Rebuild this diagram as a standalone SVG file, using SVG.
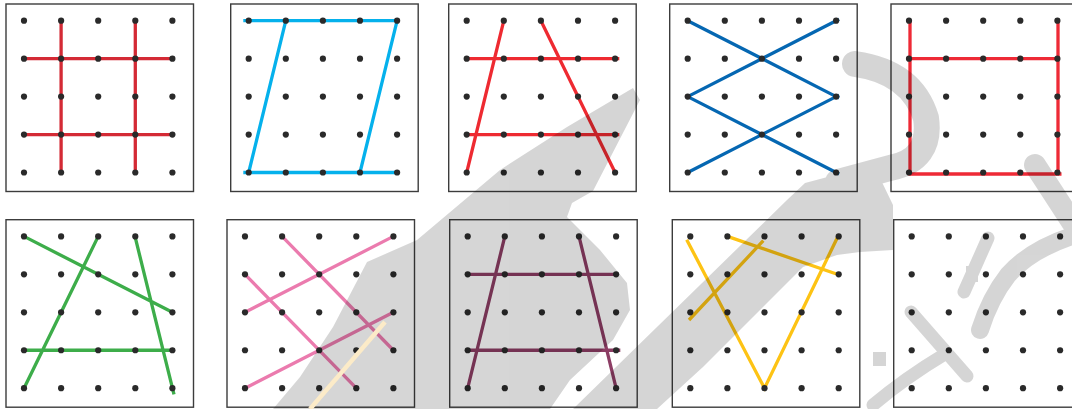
<svg xmlns="http://www.w3.org/2000/svg" xmlns:xlink="http://www.w3.org/1999/xlink" width="1072" height="409" viewBox="0 0 1072 409">
<style>
.frame{fill:#ffffff;stroke:#3c3c3c;stroke-width:1.4}
.dot{fill:#2a2a2a}
.ln{fill:none;stroke-width:3.3;stroke-linecap:butt}
.red1{stroke:#d42a35}
.cyan{stroke:#05b1ec}
.red2{stroke:#ee2a31}
.blue{stroke:#0567b2}
.red3{stroke:#ee2a36}
.green{stroke:#3dad4a}
.pink{stroke:#eb7bae}
.maroon{stroke:#8c3d64}
.yellow{stroke:#fdc314}
.wm path{fill:#000}
.wm .st{fill:none;stroke:#000;stroke-linecap:round;stroke-linejoin:round}
</style>
<defs>
<g id="grid">
<circle class="dot" cx="18" cy="16.7" r="3.1"/><circle class="dot" cx="55.1" cy="16.7" r="3.1"/><circle class="dot" cx="92.2" cy="16.7" r="3.1"/><circle class="dot" cx="129.3" cy="16.7" r="3.1"/><circle class="dot" cx="166.4" cy="16.7" r="3.1"/>
<circle class="dot" cx="18" cy="54.65" r="3.1"/><circle class="dot" cx="55.1" cy="54.65" r="3.1"/><circle class="dot" cx="92.2" cy="54.65" r="3.1"/><circle class="dot" cx="129.3" cy="54.65" r="3.1"/><circle class="dot" cx="166.4" cy="54.65" r="3.1"/>
<circle class="dot" cx="18" cy="92.6" r="3.1"/><circle class="dot" cx="55.1" cy="92.6" r="3.1"/><circle class="dot" cx="92.2" cy="92.6" r="3.1"/><circle class="dot" cx="129.3" cy="92.6" r="3.1"/><circle class="dot" cx="166.4" cy="92.6" r="3.1"/>
<circle class="dot" cx="18" cy="130.55" r="3.1"/><circle class="dot" cx="55.1" cy="130.55" r="3.1"/><circle class="dot" cx="92.2" cy="130.55" r="3.1"/><circle class="dot" cx="129.3" cy="130.55" r="3.1"/><circle class="dot" cx="166.4" cy="130.55" r="3.1"/>
<circle class="dot" cx="18" cy="168.5" r="3.1"/><circle class="dot" cx="55.1" cy="168.5" r="3.1"/><circle class="dot" cx="92.2" cy="168.5" r="3.1"/><circle class="dot" cx="129.3" cy="168.5" r="3.1"/><circle class="dot" cx="166.4" cy="168.5" r="3.1"/>
</g>
</defs>

<g id="panel-1" transform="translate(6,4)">
<rect class="frame" x="0" y="0" width="187.5" height="187.5"/>
<g class="connectors">
<path class="ln red1" d="M55.1,16.7V168.5M129.3,16.7V168.5M18,54.65H166.4M18,130.55H166.4"/>
</g>
<use href="#grid" xlink:href="#grid"/>
</g>

<g id="panel-2" transform="translate(230.7,4)">
<rect class="frame" x="0" y="0" width="187.5" height="187.5"/>
<g class="connectors">
<path class="ln cyan" d="M12.6,16.7H166.4M12.6,168.5H166.4M55.1,16.7L18,168.5M166.4,16.7L129.3,168.5"/>
</g>
<use href="#grid" xlink:href="#grid"/>
</g>

<g id="panel-3" transform="translate(448.7,4)">
<rect class="frame" x="0" y="0" width="187.5" height="187.5"/>
<g class="connectors">
<path class="ln red2" d="M18,54.65H170.6M18,130.55H170.6M55.1,16.7L18,168.5M92.2,16.7L166.4,168.5"/>
</g>
<use href="#grid" xlink:href="#grid"/>
</g>

<g id="panel-4" transform="translate(669.7,4)">
<rect class="frame" x="0" y="0" width="187.5" height="187.5"/>
<g class="connectors">
<path class="ln blue" d="M18,16.7L169.4,94.1M169.4,15.2L18,92.6M18,92.6L169.4,170M169.4,91.1L18,168.5"/>
</g>
<use href="#grid" xlink:href="#grid"/>
</g>

<g id="panel-5" transform="translate(891,4)">
<rect class="frame" x="0" y="0" width="187.5" height="187.5"/>
<g class="connectors">
<path class="ln red3" d="M19,16.7V170.3M167,16.7V170.3M18,54.65H167M17.4,170H170.5"/>
</g>
<use href="#grid" xlink:href="#grid"/>
</g>

<g id="panel-6" transform="translate(6,219.7)">
<rect class="frame" x="0" y="0" width="187.5" height="187.5"/>
<g class="connectors">
<path class="ln green" d="M18,16.7L166.4,92.6M92.2,16.7L18,168.5M129.3,18L168,174.6M18,130.55H166.4"/>
</g>
<use href="#grid" xlink:href="#grid"/>
</g>

<g id="panel-7" transform="translate(227,219.7)">
<rect class="frame" x="0" y="0" width="187.5" height="187.5"/>
<g class="connectors">
<path class="ln pink" d="M55.1,16.7L166.4,130.55M166.4,16.7L18,92.6M18,54.65L129.3,168.5M166.4,92.6L18,168.5"/>
</g>
<use href="#grid" xlink:href="#grid"/>
</g>

<g id="panel-8" transform="translate(449.7,219.7)">
<rect class="frame" x="0" y="0" width="187.5" height="187.5"/>
<g class="connectors">
<path class="ln maroon" d="M18,54.65H166.4M18,130.55H170.6M55.1,16.7L18,168.5M129.3,16.7L166.4,168.5"/>
</g>
<use href="#grid" xlink:href="#grid"/>
</g>

<g id="panel-9" transform="translate(672.3,219.7)">
<rect class="frame" x="0" y="0" width="187.5" height="187.5"/>
<g class="connectors">
<path class="ln yellow" d="M14.4,20L92.2,168.5L165,18M55.1,16.7L166.4,55M91,21L16.7,100.3"/>
</g>
<use href="#grid" xlink:href="#grid"/>
</g>

<g id="panel-10" transform="translate(893.7,219.7)">
<rect class="frame" x="0" y="0" width="187.5" height="187.5"/>
<use href="#grid" xlink:href="#grid"/>
</g>

<g id="watermark" class="wm" opacity="0.16">
<path d="M633,88 L567,127 L500,170 L417,240 L367,262 L333,327 L300,377 L273,409 L550,409 L570,380 L613,340 L630,310 L627,283 L600,250 L567,217 L572,203 L593,191 L640,100 Z"/>
<path d="M573,409 L700,285 L787,200 L805,183 L835,175 L880,178 L893,205 L893,250 L860,252 L837,255 L803,267 L753,317 L703,367 L657,409 Z"/>
<path class="st" stroke-width="26" d="M855,64 Q912,72 926,118 Q932,160 890,168 L838,182"/>
<path class="st" stroke-width="22" d="M1035,165 L1072,222"/>
<path class="st" stroke-width="18" d="M1072,236 Q1030,250 1008,275 Q990,298 980,330"/>
<path class="st" stroke-width="13" d="M988,238 L964,292"/>
<path class="st" stroke-width="13" d="M911,312 L967,376"/>
<path class="st" stroke-width="13" d="M873,405 Q905,378 945,354"/>
<path d="M966,266h12v16h-12z"/>
<path d="M873,352h13v14h-13z"/>
</g>
<path d="M385,322L310,409" fill="none" stroke="#fcebc8" stroke-width="4.5"/>
</svg>
